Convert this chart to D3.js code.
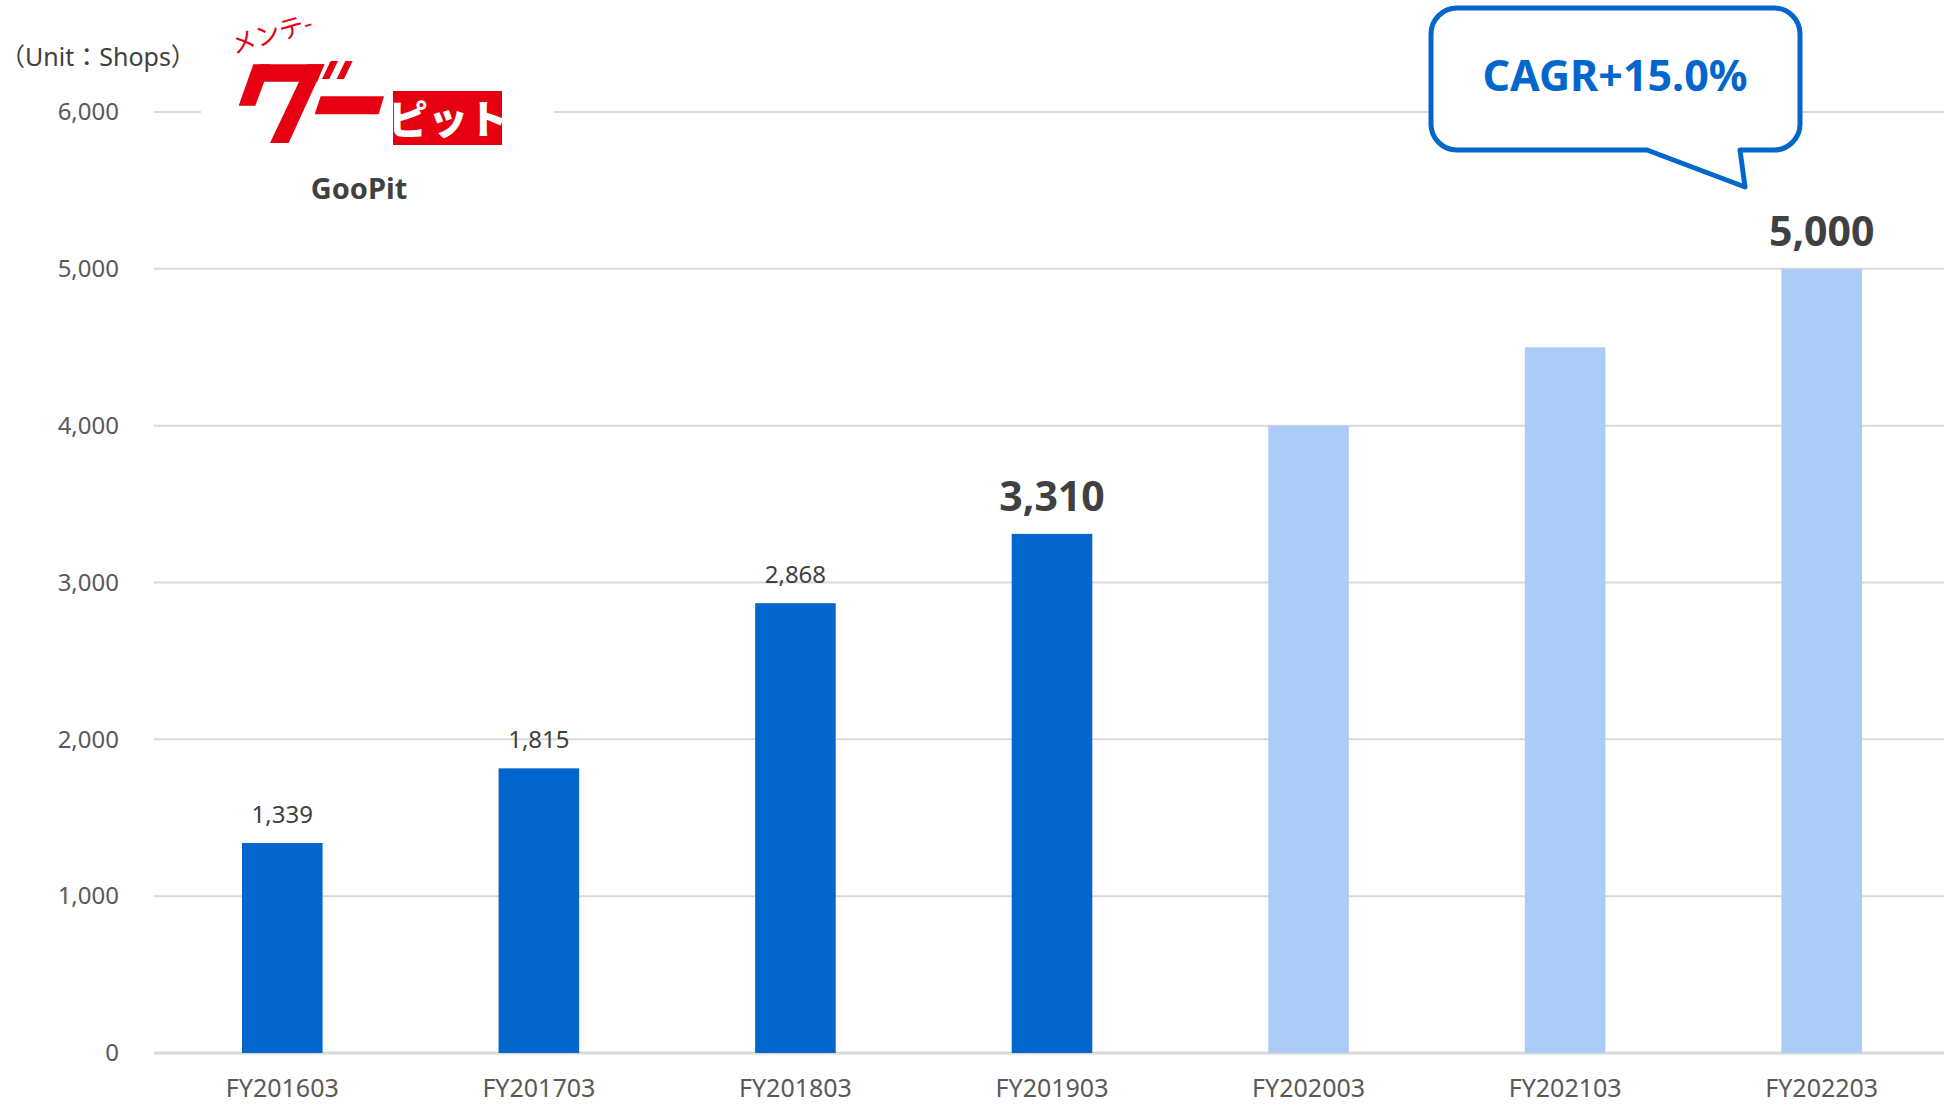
<!DOCTYPE html>
<html>
<head>
<meta charset="utf-8">
<script src="https://cdn.jsdelivr.net/npm/d3@7"></script>
<style>
  html, body { margin: 0; padding: 0; background: #fff; }
  svg { display: block; font-family: "Noto Sans", "Open Sans", sans-serif; }
</style>
</head>
<body>
<svg id="chart" width="1944" height="1105"></svg>
<script>
// Fiscal years and GooPit shop counts (last three are targets)
const categories = ["FY201603", "FY201703", "FY201803", "FY201903", "FY202003", "FY202103", "FY202203"];
const shops      = [1339, 1815, 2868, 3310, 4000, 4500, 5000];
const isPlan     = [false, false, false, false, true, true, true];
const showLabel  = [true, true, true, true, false, false, true];
const boldLabel  = [false, false, false, true, false, false, true];
const yTicks     = [0, 1000, 2000, 3000, 4000, 5000, 6000];
const unitText   = "（Unit：Shops）";
const cagrText   = "CAGR+15.0%";

const svg = d3.select("#chart");
const W = 1944, H = 1105;

const x = d3.scaleBand()
  .domain(categories)
  .range([154, 1950])
  .paddingInner(0.686)
  .paddingOuter(0.343);

const y = d3.scaleLinear()
  .domain([0, 6000])
  .range([1053, 112]);

const fmt = d3.format(",");

// Horizontal grid lines
svg.append("g")
  .selectAll("line")
  .data(yTicks)
  .join("line")
  .attr("x1", 154)
  .attr("x2", W)
  .attr("y1", d => y(d))
  .attr("y2", d => y(d))
  .attr("stroke", "#d9d9d9")
  .attr("stroke-width", d => d === 0 ? 3 : 2);

// Y axis labels
const yAxis = d3.axisLeft(y).tickValues(yTicks).tickFormat(fmt).tickSize(0).tickPadding(0);
svg.append("g")
  .attr("transform", "translate(119,0)")
  .call(yAxis)
  .call(g => g.select(".domain").remove())
  .call(g => g.selectAll("text")
    .attr("font-family", "'Noto Sans', sans-serif")
    .attr("font-size", 24)
    .attr("fill", "#595959"));

// X axis labels
const xAxis = d3.axisBottom(x).tickSize(0).tickPadding(0);
svg.append("g")
  .attr("transform", "translate(0,1079)")
  .call(xAxis)
  .call(g => g.select(".domain").remove())
  .call(g => g.selectAll("text")
    .attr("font-family", "'Noto Sans', sans-serif")
    .attr("font-size", 25)
    .attr("fill", "#595959"));

// Bars
svg.append("g")
  .selectAll("rect")
  .data(categories)
  .join("rect")
  .attr("x", d => x(d))
  .attr("width", x.bandwidth())
  .attr("y", (d, i) => y(shops[i]))
  .attr("height", (d, i) => y(0) - y(shops[i]))
  .attr("fill", (d, i) => isPlan[i] ? "#adcbf7" : "#0366cc");

// Value labels
svg.append("g")
  .selectAll("text")
  .data(categories.filter((d, i) => showLabel[i]))
  .join("text")
  .attr("x", d => x(d) + x.bandwidth() / 2)
  .attr("y", d => {
    const i = categories.indexOf(d);
    return y(shops[i]) - (boldLabel[i] ? 23 : 20);
  })
  .attr("text-anchor", "middle")
  .attr("font-size", d => boldLabel[categories.indexOf(d)] ? 41 : 24)
  .attr("font-weight", d => boldLabel[categories.indexOf(d)] ? 700 : 400)
  .attr("fill", "#404040")
  .text(d => fmt(shops[categories.indexOf(d)]));

// Unit caption
svg.append("text")
  .attr("x", 0)
  .attr("y", 66)
  .attr("font-size", 25)
  .attr("fill", "#404040")
  .attr("font-family", "'Noto Sans', 'Noto Sans CJK JP', sans-serif")
  .text(unitText);

// GooPit brand mark
const logo = svg.append("g");
logo.append("rect")
  .attr("x", 201).attr("y", 14).attr("width", 353).attr("height", 140)
  .attr("fill", "#fff");
logo.append("text")
  .attr("transform", "translate(234,54) rotate(-16)")
  .attr("font-family", "'Noto Sans CJK JP', sans-serif")
  .attr("font-size", 25)
  .attr("fill", "#e60012")
  .text("メンテ-");

// Slanted block lettering "グー" (drawn in a 3x local grid)
const markShapes = [
  [[118,148],[312,148],[292,200],[98,200]],     // top stroke
  [[100,148],[152,148],[106,272],[56,272]],     // left leg
  [[262,148],[314,148],[206,384],[150,384]],    // long diagonal
  [[332,138],[354,138],[328,192],[306,192]],    // voicing mark 1
  [[376,138],[398,138],[372,192],[350,192]],    // voicing mark 2
  [[302,244],[492,244],[476,298],[284,298]]     // long-vowel bar
];
const mark = logo.append("g").attr("transform", "translate(220,15) scale(0.3333)");
mark.selectAll("polygon")
  .data(markShapes)
  .join("polygon")
  .attr("points", d => d.map(p => p.join(",")).join(" "))
  .attr("fill", "#e60012");

logo.append("rect")
  .attr("x", 393).attr("y", 91).attr("width", 109).attr("height", 54)
  .attr("fill", "#e60012");
logo.append("text")
  .attr("x", 448).attr("y", 134)
  .attr("text-anchor", "middle")
  .attr("font-family", "'Noto Sans CJK JP', sans-serif")
  .attr("font-weight", 900)
  .attr("font-size", 40)
  .attr("fill", "#fff")
  .text("ピット");
logo.append("text")
  .attr("x", 359).attr("y", 199)
  .attr("text-anchor", "middle")
  .attr("font-size", 29)
  .attr("font-weight", 700)
  .attr("fill", "#404040")
  .text("GooPit");

// CAGR speech bubble
const bx0 = 1431, by0 = 8, bx1 = 1800, by1 = 150, r = 26;
const tailL = 1647, tailR = 1740, tipX = 1745, tipY = 187;
const bubble = d3.path();
bubble.moveTo(bx0 + r, by0);
bubble.lineTo(bx1 - r, by0);
bubble.arcTo(bx1, by0, bx1, by0 + r, r);
bubble.lineTo(bx1, by1 - r);
bubble.arcTo(bx1, by1, bx1 - r, by1, r);
bubble.lineTo(tailR, by1);
bubble.lineTo(tipX, tipY);
bubble.lineTo(tailL, by1);
bubble.lineTo(bx0 + r, by1);
bubble.arcTo(bx0, by1, bx0, by1 - r, r);
bubble.lineTo(bx0, by0 + r);
bubble.arcTo(bx0, by0, bx0 + r, by0, r);
bubble.closePath();
svg.append("path")
  .attr("d", bubble.toString())
  .attr("fill", "#fff")
  .attr("stroke", "#0366cc")
  .attr("stroke-width", 5)
  .attr("stroke-linejoin", "round");
svg.append("text")
  .attr("x", 1615)
  .attr("y", 91)
  .attr("text-anchor", "middle")
  .attr("font-size", 43)
  .attr("font-weight", 700)
  .attr("fill", "#0366cc")
  .text(cagrText);
</script>
</body>
</html>
